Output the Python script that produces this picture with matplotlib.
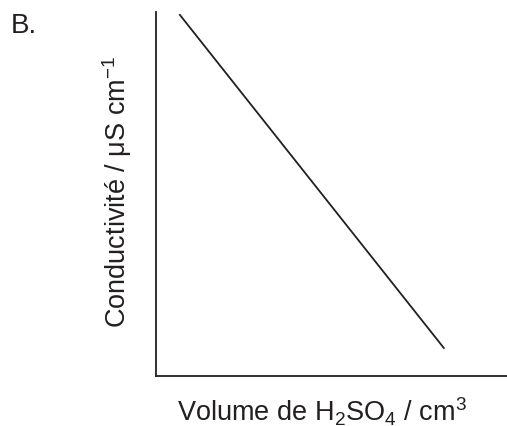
import matplotlib
matplotlib.use("Agg")
import matplotlib.pyplot as plt

plt.rcParams['font.family'] = ['Liberation Sans', 'DejaVu Sans']
plt.rcParams['mathtext.default'] = 'regular'

# valeurs (unités arbitraires)
volume = [0.68, 8.2]
conductivite = [9.92, 0.77]

INK = '#231f20'

fig = plt.figure(figsize=(5.07, 4.27), dpi=100)
ax = fig.add_axes([0.3077, 0.1171, 0.6923, 0.8525])

ax.plot(volume, conductivite, color=INK, lw=1.3)
ax.set_xlim(0, 10)
ax.set_ylim(0, 10)

for side in ['top', 'right']:
    ax.spines[side].set_visible(False)
for side in ['left', 'bottom']:
    ax.spines[side].set_color(INK)
    ax.spines[side].set_linewidth(1.3)
ax.set_xticks([])
ax.set_yticks([])

ax.set_xlabel('Volume de H$_2$SO$_4$ / cm$^3$', fontsize=19.5, color=INK)
ax.set_ylabel('Conductivité / μS cm$^{\u22121}$', fontsize=19.5, color=INK)
# position des titres d'axes (coordonnées axes)
ax.xaxis.set_label_coords((322 - 156) / 351, -(412 - 377) / 364)
ax.yaxis.set_label_coords(-(156 - 117) / 351, (377 - 192) / 364)
ax.xaxis.label.set_va('center')
ax.yaxis.label.set_va('center')

fig.text(11 / 507, 1 - 33 / 427, 'B.', fontsize=20, color=INK, va='baseline')

fig.savefig('out.png', dpi=100)
